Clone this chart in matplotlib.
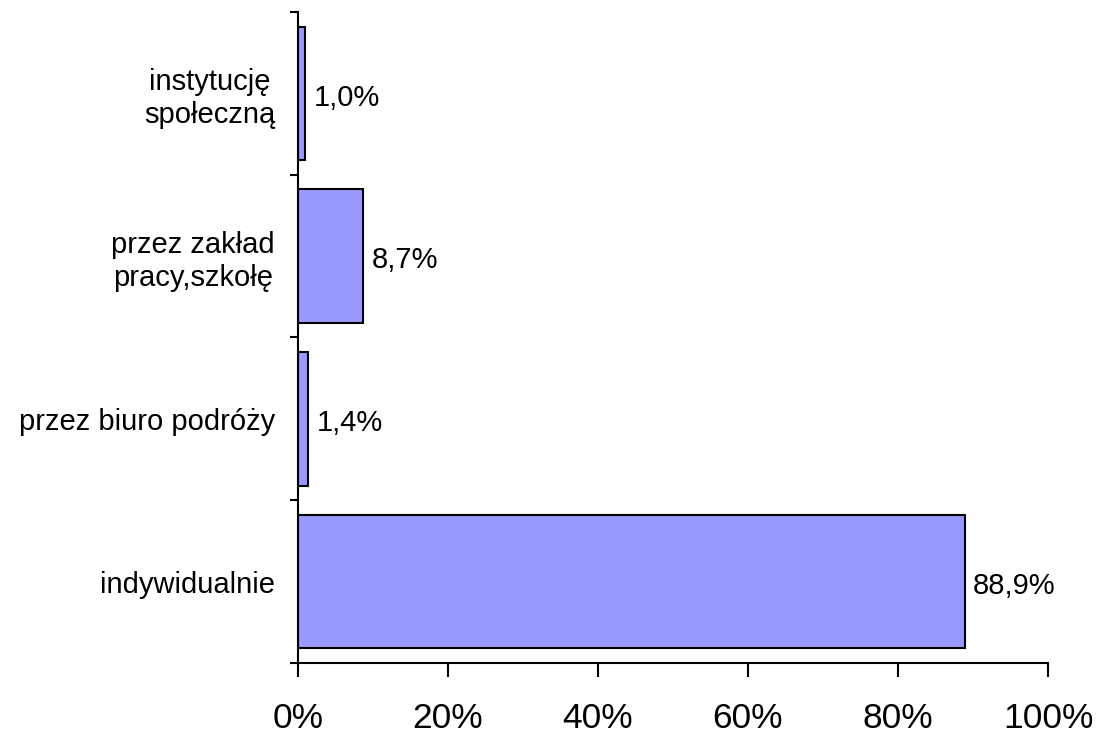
import matplotlib
matplotlib.use('Agg')
import matplotlib.pyplot as plt
from matplotlib.ticker import FixedLocator

plt.rcParams['font.family'] = ['Liberation Sans', 'DejaVu Sans']

# dane (od dołu do góry)
kategorie = ['indywidualnie', 'przez biuro podróży', 'przez zakład\npracy,szkołę', 'instytucję\nspołeczną']
wartosci = [88.9, 1.4, 8.7, 1.0]
etykiety = ['88,9%', '1,4%', '8,7%', '1,0%']
x_ticks = [0, 20, 40, 60, 80, 100]

fig = plt.figure(figsize=(11, 7.35), dpi=100)
ax = fig.add_axes([0.2709, 0.098, 0.6818, 0.8857])

pos = list(range(len(kategorie)))
ax.barh(pos, wartosci, height=0.82, color='#9999FF', edgecolor='black', linewidth=1.5)

for p, v, t in zip(pos, wartosci, etykiety):
    ax.annotate(t, xy=(v, p), xytext=(6, -3), textcoords='offset points',
                va='center', ha='left', fontsize=21)

ax.set_xlim(0, 100)
ax.set_ylim(-0.5, len(kategorie) - 0.5)

ax.set_yticks(pos)
ax.set_yticklabels(kategorie, fontsize=21, ha='right', multialignment='center', linespacing=1.2)
ax.yaxis.set_minor_locator(FixedLocator([p - 0.5 for p in range(len(kategorie) + 1)]))
ax.tick_params(axis='y', which='major', length=0, pad=16.5)
ax.tick_params(axis='y', which='minor', length=6, width=1.5, direction='out')

ax.set_xticks(x_ticks)
ax.set_xticklabels([f'{x}%' for x in x_ticks], fontsize=25.5)
ax.tick_params(axis='x', which='major', length=10, width=1.5, direction='out', pad=18)

for s in ['top', 'right']:
    ax.spines[s].set_visible(False)
for s in ['left', 'bottom']:
    ax.spines[s].set_linewidth(1.5)

plt.savefig('out.png', dpi=100)
